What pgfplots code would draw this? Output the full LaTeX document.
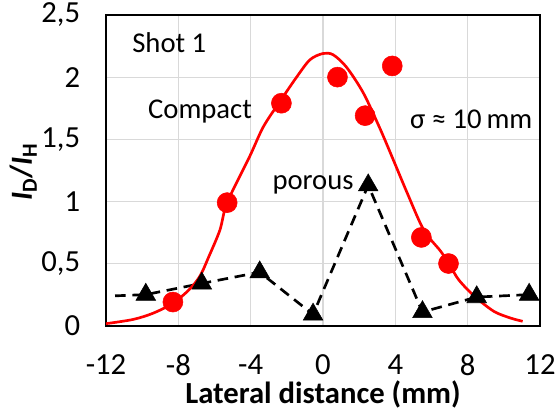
\documentclass[border=0pt]{standalone}
\usepackage{pgfplots}
\pgfplotsset{compat=1.18}
\usetikzlibrary{calc}
\usepackage{fontspec}
\setmainfont{Carlito}

\definecolor{gridgray}{RGB}{217,217,217}

\begin{document}
\fontsize{21.5}{26}\selectfont
\begin{tikzpicture}
\begin{axis}[
  scale only axis,
  width=325.5pt, height=233pt,
  xmin=-12, xmax=12, ymin=0, ymax=2.5,
  xtick={-12,-8,...,12},
  ytick={0,0.5,...,2.5},
  major tick length=0pt,
  grid=major,
  major grid style={gridgray, line width=0.9pt},
  axis line style={line width=1.5pt},
  /pgf/number format/use comma,
  /pgf/number format/assume math mode=true,
  ticklabel style={font=\fontsize{23}{27}\selectfont, inner sep=0pt},
  xticklabel style={yshift=-21.5pt},
  yticklabel style={xshift=-19.2pt},
  xlabel={\textbf{Lateral distance (mm)}},
  ylabel={\textbf{\textit{I}\textsubscript{D}/\textit{I}\textsubscript{H}}},
  label style={font=\fontsize{23}{27}\selectfont, inner sep=0pt},
  xlabel style={at={(axis description cs:0.5,-0.252)}, anchor=base},
  ylabel style={at={(axis description cs:-0.19,0.495)}, anchor=center},
  clip=false,
]
% porous (dashed, black triangles)
\addplot[black, line width=2pt, dash pattern=on 8pt off 5pt] coordinates {
(-11.5,0.24) (-9.8,0.25) (-6.7,0.34) (-3.5,0.43) (-0.55,0.09) (2.5,1.13) (5.5,0.11) (8.5,0.23) (11.4,0.25)};
\addplot[only marks, mark=triangle*, mark size=8.5pt, black] coordinates {
(-9.8,0.25) (-6.7,0.34) (-3.5,0.43) (-0.55,0.09) (2.5,1.13) (5.5,0.11) (8.5,0.23) (11.4,0.25)};
% gaussian fit
\addplot[red, line width=2pt, smooth, tension=0.5] coordinates {
(-12,0.016) (-10.5,0.05) (-9.4,0.10) (-8.3,0.18) (-7.4,0.29) (-6.8,0.40) (-6.3,0.56)
(-5.7,0.77) (-5.3,0.99) (-4.06,1.36) (-3.3,1.60) (-2.4,1.80) (-1.46,2.00) (-0.72,2.14)
(0,2.19) (0.56,2.18) (1.3,2.08) (2.24,1.87) (3.17,1.58) (3.9,1.33) (4.65,1.07)
(5.57,0.77) (6.5,0.60) (7.0,0.49) (7.5,0.37) (8.35,0.24) (9.45,0.115) (10.4,0.06) (11.04,0.035)};
% compact
\addplot[only marks, mark=*, mark size=7.5pt, red] coordinates {
(-8.3,0.19) (-5.3,0.99) (-2.3,1.79) (0.8,2.0) (2.33,1.69) (3.83,2.09) (5.44,0.71) (6.94,0.50)};
\node at (axis cs:-8.5,2.28) {Shot 1};
\node at (axis cs:-6.8,1.72) {Compact};
\node at (axis cs:-0.55,1.13) {porous};
\node at (axis cs:8.2,1.66) {σ ≈ 10\,mm};
\end{axis}
\pgfresetboundingbox
\useasboundingbox ($(current axis.south west)+(-79.5pt,-64.5pt)$) rectangle ($(current axis.north east)+(12pt,11.25pt)$);
\end{tikzpicture}
\end{document}
